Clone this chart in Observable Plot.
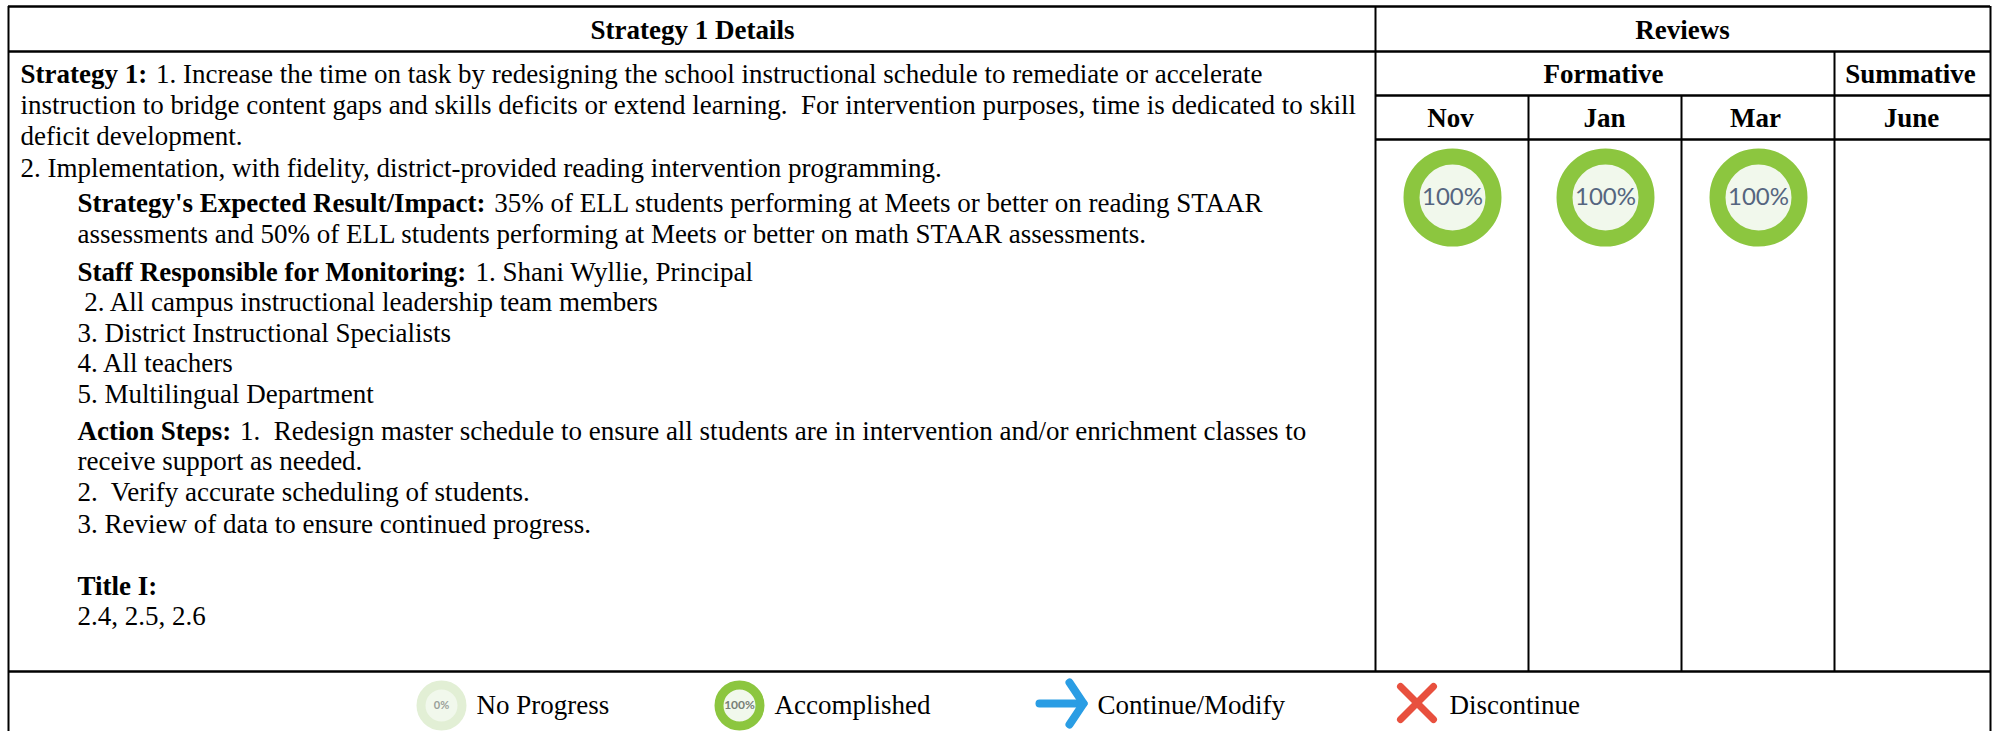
<!DOCTYPE html>
<html>
<head>
<meta charset="utf-8">
<script src="https://cdn.jsdelivr.net/npm/d3@7"></script>
<script src="https://cdn.jsdelivr.net/npm/@observablehq/plot@0.6"></script>
<style>html,body{margin:0;padding:0;background:#fff;overflow:hidden}svg{display:block}</style>
</head>
<body>
<div id="chart"></div>
<script>
const boldLead = ["Strategy 1:","","","","Strategy's Expected Result/Impact:","","Staff Responsible for Monitoring:","","","","","Action Steps:","","","","Title I:",""];
const plainRest = [
"1. Increase the time on task by redesigning the school instructional schedule to remediate or accelerate",
"instruction to bridge content gaps and skills deficits or extend learning.  For intervention purposes, time is dedicated to skill",
"deficit development.",
"2. Implementation, with fidelity, district-provided reading intervention programming.",
"35% of ELL students performing at Meets or better on reading STAAR",
"assessments and 50% of ELL students performing at Meets or better on math STAAR assessments.",
"1. Shani Wyllie, Principal",
" 2. All campus instructional leadership team members",
"3. District Instructional Specialists",
"4. All teachers",
"5. Multilingual Department",
"1.  Redesign master schedule to ensure all students are in intervention and/or enrichment classes to",
"receive support as needed.",
"2.  Verify accurate scheduling of students.",
"3. Review of data to ensure continued progress.",
"",
"2.4, 2.5, 2.6"];
const lineY = [74,105,136,168,203,234,272,302,333,363,394,431,461,492,524,586,616];
const lineX = [20,20,20,20,77,77,77,77,77,77,77,77,77,77,77,77,77];

const headers = ["Strategy 1 Details","Reviews","Formative","Summative","Nov","Jan","Mar","June"];
const headerX = [692,1682,1603,1910,1450,1604,1755,1911];
const headerY = [30,30,74,74,118,118,118,118];

const reviewMonths = ["Nov","Jan","Mar"];
const reviewX = [1452,1605,1758];
const reviewY = 197;
const reviewLabel = "100%";

const legendLabels = ["No Progress","Accomplished","Continue/Modify","Discontinue"];
const legendTextX = [476,774,1097,1449];
const legendY = 705;

const hLines = [[8,1990,6],[8,1990,51],[1375,1990,95],[1375,1990,139],[8,1990,671]];
const vLines = [[8,6,731],[1375,6,671],[1990,6,731],[1528,95,671],[1681,95,671],[1834,51,671]];

const F = '"Liberation Serif"';
const SIZE = 27;
const ctx = document.createElement("canvas").getContext("2d");
ctx.font = `bold ${SIZE}px ${F}`;
const leadW = boldLead.map(s => s ? ctx.measureText(s + " ").width + 2 : 0);
const idx = d3.range(plainRest.length);

const plot = Plot.plot({
  width: 1993, height: 731,
  marginTop: 0, marginRight: 0, marginBottom: 0, marginLeft: 0,
  x: {domain: [0, 1993], range: [0, 1993], axis: null},
  y: {domain: [0, 731], range: [0, 731], axis: null},
  style: {background: "#fff", whiteSpace: "pre"},
  marks: [
    Plot.ruleY(hLines, {x1: d => d[0], x2: d => d[1], y: d => d[2], stroke: "#000", strokeWidth: 2.5}),
    Plot.ruleX(vLines, {x: d => d[0], y1: d => d[1], y2: d => d[2], stroke: "#000", strokeWidth: 2}),
    Plot.text(headers, {x: (d,i) => headerX[i], y: (d,i) => headerY[i], text: d => d, fontFamily: F, fontSize: SIZE, fontWeight: "bold", fill: "#000"}),
    Plot.text(idx, {x: i => lineX[i], y: i => lineY[i], text: i => boldLead[i], textAnchor: "start", fontFamily: F, fontSize: SIZE, fontWeight: "bold", fill: "#000"}),
    Plot.text(idx, {x: i => lineX[i] + leadW[i], y: i => lineY[i], text: i => plainRest[i], textAnchor: "start", fontFamily: F, fontSize: SIZE, fill: "#000"}),
    Plot.dot(reviewMonths, {x: (d,i) => reviewX[i], y: reviewY, r: 41, fill: "#f1f8ec", stroke: "#8cc63f", strokeWidth: 16}),
    Plot.text(reviewMonths, {x: (d,i) => reviewX[i], y: reviewY, text: () => reviewLabel, fontFamily: "Lato", fontSize: 24, fill: "#55657f"}),
    Plot.dot([0], {x: 441, y: legendY, r: 20.5, fill: "#f1f8ec", stroke: "#e2efd5", strokeWidth: 9}),
    Plot.text([0], {x: 441, y: legendY, text: () => "0%", fontFamily: "Lato", fontSize: 11, fontWeight: "bold", fill: "#9aa09a"}),
    Plot.dot([0], {x: 739, y: legendY, r: 20.5, fill: "#f1f8ec", stroke: "#8cc63f", strokeWidth: 9}),
    Plot.text([0], {x: 739, y: legendY, text: () => "100%", fontFamily: "Lato", fontSize: 12, fontWeight: "bold", fill: "#777f77"}),
    Plot.link([0], {x1: 1039, x2: 1082, y1: 703, y2: 703, stroke: "#2a9de4", strokeWidth: 8, strokeLinecap: "round"}),
    Plot.link([-1,1], {x1: 1069, x2: 1083, y1: d => 703 + d * 21, y2: 703, stroke: "#2a9de4", strokeWidth: 8, strokeLinecap: "round"}),
    Plot.link([0,1], {x1: 1400, x2: 1433, y1: d => d ? 686 : 719, y2: d => d ? 719 : 686, stroke: "#e8503e", strokeWidth: 7, strokeLinecap: "round"}),
    Plot.text(legendLabels, {x: (d,i) => legendTextX[i], y: legendY, text: d => d, textAnchor: "start", fontFamily: F, fontSize: SIZE, fill: "#000"})
  ]
});
document.getElementById("chart").append(plot);
</script>
</body>
</html>
